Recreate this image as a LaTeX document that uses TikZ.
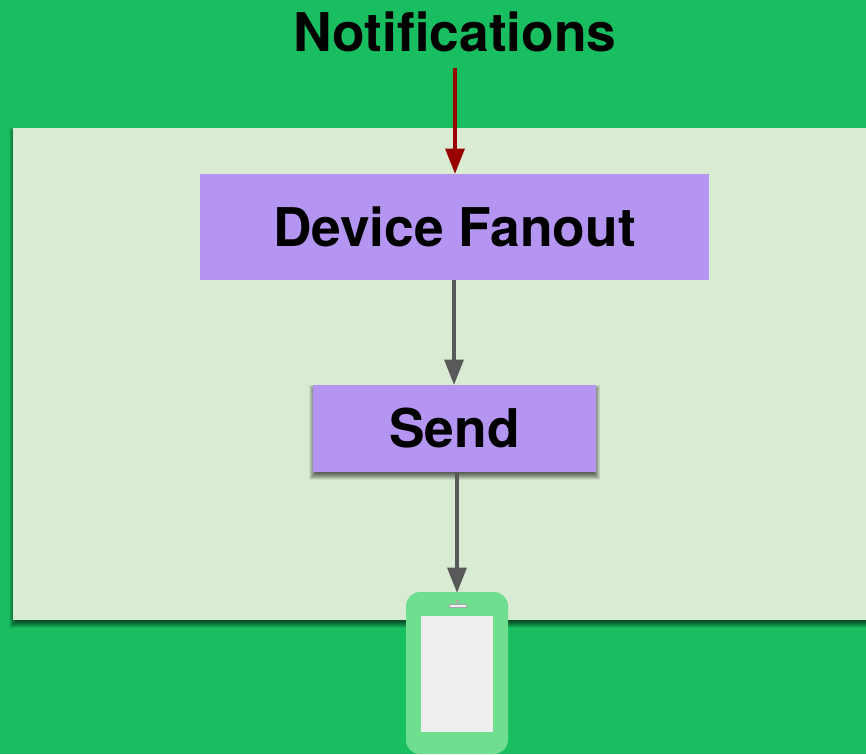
\documentclass[tikz,border=0pt]{standalone}
\usepackage{fontspec}
\setmainfont{TeX Gyre Heros}
\usetikzlibrary{arrows.meta}
\definecolor{bgreen}{HTML}{18BE60}
\definecolor{panel}{HTML}{D9EBD3}
\definecolor{purp}{HTML}{B495F1}
\definecolor{phone}{HTML}{6FDF8F}
\definecolor{screen}{HTML}{EEEEEE}
\definecolor{garrow}{HTML}{595959}
\definecolor{rarrow}{HTML}{990000}
\tikzset{x=0.75pt,y=-0.75pt,
 titlef/.style={inner sep=0,font=\bfseries\fontsize{40}{40}\selectfont,text=black},
 boxn/.style={fill=purp,inner sep=0,font=\bfseries\fontsize{40}{40}\selectfont,text=black},
 conn/.style={line width=3pt,draw=garrow,-{Triangle[length=19pt,width=14pt,fill=garrow]}},
 redconn/.style={line width=3pt,draw=rarrow,-{Triangle[length=19pt,width=14pt,fill=rarrow]}}}
\newcommand{\softshadow}[4]{%
 \foreach \s in {4,3.5,3,2.5,2,1.5,1,0.5,0,-0.5,-1,-1.5,-2,-2.5,-3,-3.5,-4}{
  \fill[black,opacity=.055] (#1-\s,#2+3.5-\s) rectangle (#3+\s,#4+3.5+\s);}}
\begin{document}
\begin{tikzpicture}
\useasboundingbox (0,0) rectangle (866,754);
\fill[bgreen] (0,0) rectangle (866,754);
\softshadow{13}{128}{880}{620}
\fill[panel] (13,128) rectangle (866,620);
\node[titlef] (title) at (455,32) {Notifications};
\softshadow{313}{385}{596}{472}
\node[boxn,minimum width=381.75pt,minimum height=79.5pt] (fan) at (454.5,227) {Device Fanout};
\node[boxn,minimum width=212.25pt,minimum height=65.25pt] (send) at (454.5,428.5) {Send};
\coordinate (tend) at (455,68);
\coordinate (fantop) at (455,174);
\coordinate (fanb) at (454,280);
\coordinate (sendt) at (454,385);
\coordinate (sendb) at (457,472);
\coordinate (phtop) at (457,593);
\fill[phone,rounded corners=10.5pt] (406,592) rectangle (508,754);
\fill[screen] (421,616) rectangle (493,732);
\fill[screen,draw=black!35,line width=.4pt] (449,604.5) rectangle (466,607);
\fill[screen,draw=black!35,line width=.3pt] (456,600) rectangle (458.5,602);
\draw[redconn] (tend) -- (fantop);
\draw[conn] (fanb) -- (sendt);
\draw[conn] (sendb) -- (phtop);
\end{tikzpicture}
\end{document}
